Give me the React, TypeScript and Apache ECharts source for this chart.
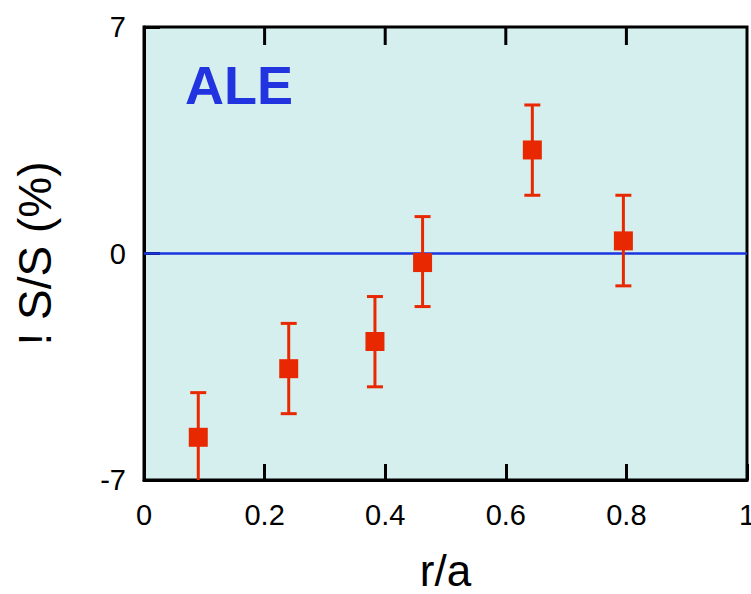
import React, { useEffect, useRef } from "react";
import * as echarts from "echarts";

const rOverA = [0.09, 0.24, 0.383, 0.462, 0.644, 0.795];
const deltaS = [-5.68, -3.56, -2.72, -0.28, 3.2, 0.39];
const errLow = [-7.08, -4.95, -4.12, -1.64, 1.8, -1.0];
const errHigh = [-4.3, -2.16, -1.33, 1.14, 4.59, 1.8];
const yTicks = [-7, 0, 7];
const xTicks = [0, 0.2, 0.4, 0.6, 0.8, 1];

const RED = "#e82800";
const BLUE = "#1a35e0";
const FONT = "Liberation Sans, Arial, Helvetica, sans-serif";

const TOP_TICK_LEN = 18;

export default function App() {
  const ref = useRef<HTMLDivElement>(null);
  useEffect(() => {
    if (!ref.current) return;
    const chart = echarts.init(ref.current, null, { renderer: "svg" });
    const errData = rOverA.map((x, i) => [x, errLow[i], errHigh[i]]);
    const pts = rOverA.map((x, i) => [x, deltaS[i]]);
    const yMin = yTicks[0];
    const yMax = yTicks[yTicks.length - 1];
    const topTickData = xTicks.slice(1, -1).map((x) => [x, 0]);
    const tick = (len: number) => ({ show: true, inside: true, length: len, lineStyle: { color: "#000", width: 3 } });
    const axisLineStyle = { show: true, onZero: false, lineStyle: { color: "#000", width: 3 } };
    chart.setOption({
      animation: false,
      backgroundColor: "#fff",
      textStyle: { fontFamily: FONT },
      grid: {
        left: 144,
        right: 4,
        top: 27,
        bottom: 114,
        show: true,
        outerBoundsMode: "none",
        containLabel: false,
        backgroundColor: "#d5efee",
        borderColor: "#000",
        borderWidth: 3,
      },
      xAxis: {
        type: "value",
        min: xTicks[0],
        max: xTicks[xTicks.length - 1],
        interval: 0.2,
        position: "bottom",
        axisLine: axisLineStyle,
        axisTick: tick(16),
        splitLine: { show: false },
        axisLabel: { color: "#000", fontSize: 29, fontFamily: FONT, margin: 20 },
        name: "r/a",
        nameLocation: "middle",
        nameGap: 68,
        nameTextStyle: { color: "#000", fontSize: 44, fontFamily: FONT },
      },
      yAxis: {
        type: "value",
        min: yMin,
        max: yMax,
        interval: 7,
        position: "left",
        axisLine: axisLineStyle,
        axisTick: tick(16),
        splitLine: { show: false },
        axisLabel: { color: "#000", fontSize: 29, fontFamily: FONT, margin: 18 },
        name: "! S/S (%)",
        nameLocation: "middle",
        nameGap: 86,
        nameTextStyle: { color: "#000", fontSize: 46, fontFamily: FONT },
      },
      series: [
        {
          type: "line",
          data: [[xTicks[0], 0], [xTicks[xTicks.length - 1], 0]],
          symbol: "none",
          lineStyle: { color: BLUE, width: 2.5 },
          z: 2,
        },
        {
          type: "custom",
          clip: false,
          silent: true,
          data: topTickData,
          z: 6,
          renderItem: (params: any, api: any) => {
            const p = api.coord([api.value(0), api.value(1)]);
            const top = params.coordSys.y;
            return {
              type: "rect",
              shape: { x: p[0] - 1.5, y: top, width: 3, height: TOP_TICK_LEN },
              style: { fill: "#000" },
            };
          },
        },
        {
          type: "custom",
          clip: true,
          data: errData,
          z: 3,
          renderItem: (params: any, api: any) => {
            const x = api.value(0);
            const lo = api.coord([x, api.value(1)]);
            const hi = api.coord([x, api.value(2)]);
            const hw = 8;
            const style = { stroke: RED, lineWidth: 3 };
            return {
              type: "group",
              children: [
                { type: "line", shape: { x1: lo[0], y1: lo[1], x2: hi[0], y2: hi[1] }, style },
                { type: "line", shape: { x1: hi[0] - hw, y1: hi[1], x2: hi[0] + hw, y2: hi[1] }, style },
                { type: "line", shape: { x1: lo[0] - hw, y1: lo[1], x2: lo[0] + hw, y2: lo[1] }, style },
              ],
            };
          },
        },
        {
          type: "scatter",
          data: pts,
          symbol: "rect",
          symbolSize: 19,
          itemStyle: { color: RED, opacity: 1 },
          z: 4,
        },
      ],
      graphic: [
        {
          type: "text",
          left: 185,
          top: 58,
          style: {
            text: "ALE",
            fill: "#2233e0",
            font: `bold 54px ${FONT}`,
          },
          z: 10,
        },
      ],
    });
    return () => chart.dispose();
  }, []);
  return (
    <div
      ref={ref}
      style={{ position: "fixed", left: 0, top: 0, width: 751, height: 594 }}
    />
  );
}
